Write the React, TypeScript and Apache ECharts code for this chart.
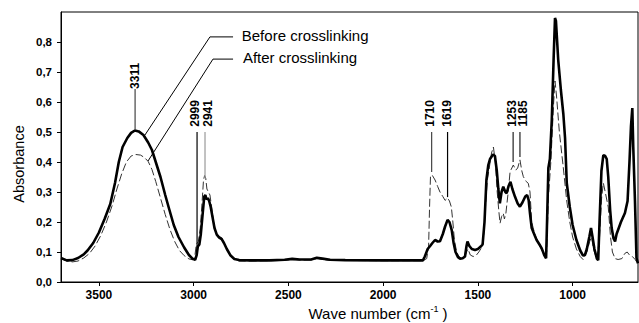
import React, { useEffect, useRef } from "react";
import * as echarts from "echarts";

// ---- tick values ----
const xTicks = [3500, 3000, 2500, 2000, 1500, 1000];
const yTicks = [0, 0.1, 0.2, 0.3, 0.4, 0.5, 0.6, 0.7, 0.8];

// ---- Before crosslinking: [wavenumber, absorbance] ----
const beforeHigh: number[][] = [
  [3700, 0.08], [3670, 0.072], [3640, 0.073], [3610, 0.08], [3580, 0.092], [3560, 0.105],
  [3530, 0.13], [3500, 0.165], [3470, 0.21], [3440, 0.26], [3415, 0.33], [3395, 0.4],
  [3375, 0.45], [3350, 0.48], [3330, 0.497], [3310, 0.505], [3290, 0.502], [3265, 0.49],
  [3240, 0.465], [3220, 0.44], [3200, 0.4], [3175, 0.35], [3150, 0.29], [3130, 0.245],
  [3105, 0.19], [3080, 0.15], [3050, 0.115], [3025, 0.09], [3005, 0.077], [2992, 0.074],
  [2984, 0.09], [2978, 0.118], [2970, 0.125], [2962, 0.16], [2952, 0.23], [2944, 0.285],
  [2938, 0.29], [2932, 0.275], [2925, 0.28], [2918, 0.27], [2910, 0.25], [2900, 0.215],
  [2890, 0.18], [2878, 0.158], [2865, 0.148], [2852, 0.143], [2840, 0.13], [2825, 0.11],
  [2805, 0.088], [2785, 0.077], [2760, 0.073], [2700, 0.072], [2600, 0.072], [2520, 0.074],
  [2480, 0.077], [2440, 0.075], [2380, 0.075], [2350, 0.081], [2320, 0.078], [2280, 0.074],
  [2200, 0.073], [2000, 0.072], [1900, 0.072], [1790, 0.072],
];
const beforeLow: number[][] = [
  [1780, 0.085], [1765, 0.11], [1752, 0.12], [1740, 0.13], [1726, 0.14], [1712, 0.135],
  [1700, 0.136], [1685, 0.16], [1673, 0.185], [1660, 0.207], [1650, 0.2], [1638, 0.173],
  [1628, 0.13], [1618, 0.1], [1605, 0.083], [1594, 0.078], [1580, 0.079], [1568, 0.085],
  [1560, 0.12], [1555, 0.135], [1545, 0.12], [1532, 0.11], [1515, 0.107], [1500, 0.11],
  [1485, 0.118], [1475, 0.125], [1465, 0.2], [1455, 0.34], [1445, 0.39], [1436, 0.41],
  [1420, 0.425], [1410, 0.42], [1400, 0.37], [1392, 0.31], [1384, 0.262], [1375, 0.3],
  [1366, 0.318], [1355, 0.3], [1348, 0.296], [1338, 0.32], [1328, 0.334], [1318, 0.31],
  [1304, 0.284], [1290, 0.262], [1278, 0.251], [1265, 0.265], [1250, 0.285], [1240, 0.29],
  [1232, 0.273], [1225, 0.229], [1216, 0.18], [1200, 0.155], [1190, 0.14], [1175, 0.125],
  [1163, 0.112], [1150, 0.09], [1140, 0.079], [1135, 0.2], [1128, 0.38], [1120, 0.41],
  [1110, 0.54], [1100, 0.75], [1093, 0.88], [1088, 0.87], [1076, 0.74], [1062, 0.64],
  [1049, 0.56], [1040, 0.48], [1031, 0.33], [1015, 0.25], [1000, 0.19], [980, 0.14],
  [960, 0.105], [945, 0.088], [935, 0.09], [925, 0.11], [912, 0.15], [903, 0.18],
  [895, 0.15], [885, 0.11], [872, 0.078], [865, 0.073], [858, 0.2], [848, 0.37],
  [838, 0.423], [828, 0.42], [820, 0.41], [812, 0.35], [802, 0.24], [794, 0.18],
  [784, 0.145], [776, 0.135], [768, 0.16], [745, 0.2], [724, 0.23], [710, 0.27],
  [700, 0.4], [692, 0.52], [685, 0.58], [680, 0.45], [671, 0.27], [663, 0.08], [655, 0.062],
];

// ---- After crosslinking: [wavenumber, absorbance] ----
const afterHigh: number[][] = [
  [3700, 0.078], [3670, 0.07], [3640, 0.067], [3610, 0.07], [3580, 0.08], [3550, 0.095],
  [3520, 0.12], [3490, 0.155], [3460, 0.2], [3430, 0.255], [3405, 0.31], [3380, 0.36],
  [3355, 0.4], [3330, 0.42], [3305, 0.425], [3280, 0.423], [3260, 0.415], [3240, 0.402],
  [3220, 0.375], [3200, 0.335], [3175, 0.28], [3150, 0.225], [3125, 0.175], [3100, 0.135],
  [3075, 0.105], [3050, 0.088], [3025, 0.077], [3005, 0.074], [2994, 0.085], [2986, 0.125],
  [2975, 0.135], [2965, 0.18], [2955, 0.27], [2948, 0.34], [2942, 0.355], [2936, 0.345],
  [2930, 0.31], [2922, 0.3], [2914, 0.29], [2905, 0.25], [2895, 0.2], [2882, 0.165],
  [2868, 0.152], [2852, 0.148], [2838, 0.128], [2822, 0.105], [2805, 0.085], [2785, 0.075],
  [2760, 0.07], [2700, 0.07], [2600, 0.071], [2520, 0.072], [2480, 0.075], [2440, 0.073],
  [2380, 0.073], [2350, 0.078], [2320, 0.075], [2280, 0.072], [2000, 0.071], [1790, 0.071],
];
const afterLow: number[][] = [
  [1770, 0.078], [1760, 0.12], [1755, 0.25], [1750, 0.355], [1740, 0.355], [1726, 0.34],
  [1712, 0.318], [1700, 0.3], [1685, 0.285], [1673, 0.272], [1660, 0.28], [1650, 0.27],
  [1640, 0.25], [1632, 0.2], [1624, 0.14], [1612, 0.1], [1600, 0.085], [1585, 0.078],
  [1570, 0.082], [1560, 0.1], [1552, 0.11], [1540, 0.09], [1525, 0.085], [1510, 0.088],
  [1495, 0.1], [1480, 0.115], [1470, 0.15], [1460, 0.25], [1450, 0.34], [1440, 0.38],
  [1428, 0.43], [1418, 0.45], [1408, 0.4], [1398, 0.3], [1390, 0.24], [1383, 0.196],
  [1375, 0.218], [1366, 0.229], [1360, 0.21], [1352, 0.23], [1340, 0.3], [1330, 0.368],
  [1313, 0.39], [1300, 0.373], [1290, 0.38], [1278, 0.407], [1268, 0.37], [1260, 0.351],
  [1245, 0.335], [1234, 0.329], [1225, 0.3], [1216, 0.2], [1200, 0.16], [1185, 0.135],
  [1170, 0.115], [1155, 0.095], [1145, 0.088], [1137, 0.1], [1128, 0.28], [1115, 0.4],
  [1100, 0.6], [1093, 0.67], [1085, 0.62], [1070, 0.5], [1049, 0.38], [1031, 0.27],
  [1015, 0.2], [1000, 0.15], [980, 0.11], [960, 0.085], [945, 0.075], [925, 0.1],
  [910, 0.135], [900, 0.15], [890, 0.11], [872, 0.075], [858, 0.15], [847, 0.28],
  [838, 0.33], [828, 0.3], [812, 0.25], [800, 0.15], [790, 0.1], [776, 0.078],
  [760, 0.075], [740, 0.078], [725, 0.095], [712, 0.1], [700, 0.09], [685, 0.085],
  [670, 0.075], [655, 0.06],
];

// ---- peak annotations (label, wavenumber it marks) ----
const peakLabels = ["3311", "2999", "2941", "1710", "1619", "1253", "1185"];
const peakLineWave = [3309, 2982, 2940, 1744, 1660, 1314, 1278];
const peakLineBottom = [0.507, 0.107, 0.347, 0.367, 0.283, 0.4, 0.417];

const FONT = '"Liberation Sans", Arial, Helvetica, sans-serif';

export default function App() {
  const ref = useRef<HTMLDivElement>(null);

  useEffect(() => {
    if (!ref.current) return;
    const chart = echarts.init(ref.current, null, { renderer: "svg" });
    const option: any = {
      animation: false,
      backgroundColor: "#fff",
      grid: {
        left: 61, right: 1, top: 12, bottom: 41,
        show: true, borderColor: "#000", borderWidth: 1, backgroundColor: "transparent",
      },
      xAxis: {
        type: "value", min: 655, max: 3700, inverse: true,
        axisLine: { show: true, onZero: false, lineStyle: { color: "#000", width: 1 } },
        axisTick: { show: true, length: 4, customValues: xTicks, lineStyle: { color: "#000" } },
        axisLabel: {
          customValues: xTicks, color: "#000", fontSize: 12, fontWeight: "bold",
          fontFamily: FONT, margin: 7,
          formatter: (v: number) => String(Math.round(v)),
        },
        splitLine: { show: false },
      },
      yAxis: {
        type: "value", min: 0, max: 0.9, position: "left",
        axisLine: { show: true, onZero: false, lineStyle: { color: "#000", width: 1 } },
        axisTick: { show: true, length: 4, customValues: yTicks, lineStyle: { color: "#000" } },
        axisLabel: {
          customValues: yTicks, color: "#000", fontSize: 11.5, fontWeight: "bold",
          fontFamily: FONT, margin: 9,
          formatter: (v: number) => v.toFixed(1).replace(".", ","),
        },
        splitLine: { show: false },
      },
      series: [
        {
          name: "After crosslinking", type: "line", showSymbol: false, symbol: "none",
          data: afterHigh.concat(afterLow),
          lineStyle: { color: "#333", width: 1, type: [8, 3] },
          z: 2,
        },
        {
          name: "Before crosslinking", type: "line", showSymbol: false, symbol: "none",
          data: beforeHigh.concat(beforeLow),
          lineStyle: { color: "#000", width: 2.6 },
          z: 3,
        },
      ],
    };
    chart.setOption(option);

    const px = (w: number, a: number) =>
      chart.convertToPixel({ xAxisIndex: 0, yAxisIndex: 0 }, [w, a]) as number[];

    const g: any[] = [];
    // legend callouts
    const bA = px(2792, 0.817), bB = px(2914, 0.817), bC = px(3257, 0.49);
    const aA = px(2792, 0.743), aB = px(2898, 0.743), aC = px(3241, 0.403);
    g.push({ type: "polyline", shape: { points: [bA, bB, bC] }, style: { stroke: "#000", lineWidth: 1, fill: null }, z: 10 });
    g.push({ type: "polyline", shape: { points: [aA, aB, aC] }, style: { stroke: "#000", lineWidth: 1, fill: null }, z: 10 });
    const bt = px(2746, 0.823), at = px(2740, 0.747);
    g.push({ type: "text", x: bt[0], y: bt[1], style: { text: "Before crosslinking", fill: "#000", font: `15px ${FONT}`, align: "left", verticalAlign: "middle" }, z: 10 });
    g.push({ type: "text", x: at[0], y: at[1], style: { text: "After crosslinking", fill: "#000", font: `15px ${FONT}`, align: "left", verticalAlign: "middle" }, z: 10 });

    // peak labels
    const lineColors = ["#444", "#000", "#999", "#444", "#000", "#222", "#222"];
    const textOffset = [0, 11, -17, 9, 4, 7, -18];
    peakLabels.forEach((lab, i) => {
      const top = i === 0 ? 0.643 : 0.5;
      const p1 = px(peakLineWave[i], top);
      const p2 = px(peakLineWave[i], peakLineBottom[i]);
      g.push({ type: "line", shape: { x1: p1[0], y1: p1[1], x2: p2[0], y2: p2[1] }, style: { stroke: lineColors[i], lineWidth: 1.2 }, z: 10 });
      const tp = px(peakLineWave[i] + textOffset[i], i === 0 ? 0.687 : 0.562);
      g.push({
        type: "text", x: tp[0], y: tp[1], rotation: Math.PI / 2,
        style: { text: lab, fill: "#000", font: `bold 12px ${FONT}`, align: "center", verticalAlign: "middle" },
        z: 10,
      });
    });

    // axis titles
    g.push({
      type: "text", x: 19, y: 164, rotation: Math.PI / 2,
      style: { text: "Absorbance", fill: "#000", font: `14.5px ${FONT}`, align: "center", verticalAlign: "middle" },
    });
    g.push({
      type: "text", x: 378, y: 313,
      style: {
        text: "{a|Wave number (cm}{s|-1}{a| )}", fill: "#000", align: "center", verticalAlign: "middle",
        rich: {
          a: { fontSize: 15, fontFamily: FONT, fill: "#000" },
          s: { fontSize: 9, fontFamily: FONT, fill: "#000", verticalAlign: "top", padding: [0, 0, 8, 0] },
        },
      },
    });

    chart.setOption({ graphic: g });
    return () => chart.dispose();
  }, []);

  return (
    <div
      ref={ref}
      style={{ position: "absolute", left: 0, top: 0, width: 639, height: 323, background: "#fff" }}
    />
  );
}
